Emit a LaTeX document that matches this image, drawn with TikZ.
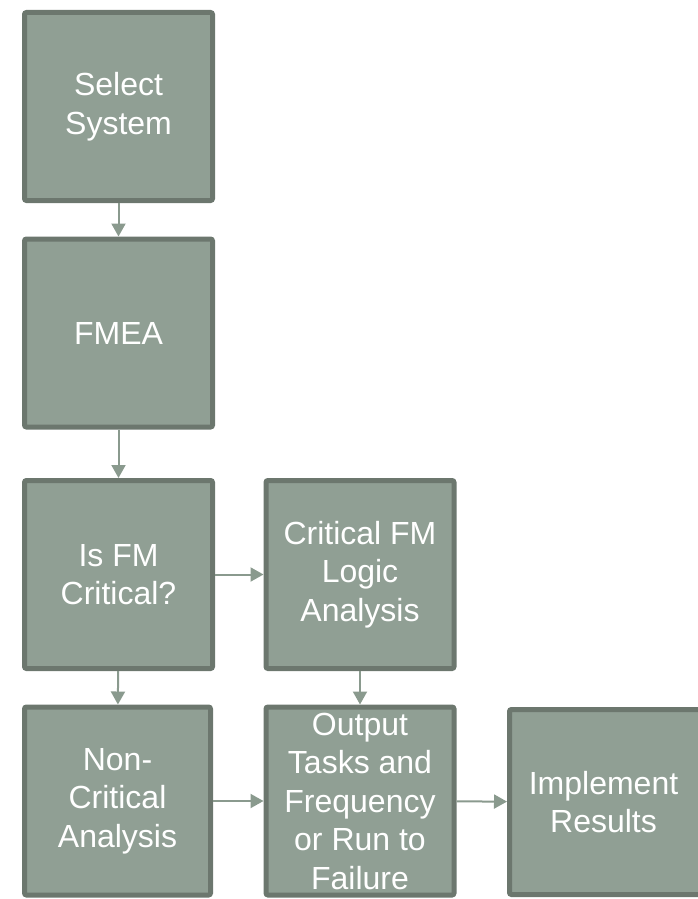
\documentclass[tikz,border=0pt]{standalone}
\usepackage{fontspec}
\setmainfont{Liberation Sans}
\usetikzlibrary{arrows.meta}
\definecolor{boxfill}{HTML}{909F94}
\definecolor{boxline}{HTML}{6C776E}
\definecolor{arrowcol}{HTML}{8A9A8E}
\begin{document}
\begin{tikzpicture}[x=1pt,y=-1pt,
    stepbox/.style={draw=boxline,line width=5pt,fill=boxfill,rounded corners=2pt,
        minimum width=188pt,minimum height=188pt,inner sep=0pt,align=center,
        text=white,font=\fontsize{32}{38.5}\selectfont},
    flow/.style={-{Triangle[length=13pt,width=14pt]},draw=arrowcol,fill=arrowcol,line width=2pt}]
    \useasboundingbox (0,0) rectangle (698,899);
    \clip (0,0) rectangle (698,899);

    \node[stepbox] (select) at (118.5,106.5) {Select\\System};
    \node[stepbox] (fmea) at (118.5,333) {FMEA};
    \node[stepbox] (iscrit) at (118.5,574.5) {Is FM\\Critical?};
    \node[stepbox] (critlogic) at (360,574.5) {Critical FM\\Logic\\Analysis};
    \node[stepbox,minimum width=186pt] (noncrit) at (117.5,801) {Non-\\Critical\\Analysis};
    \node[stepbox] (output) at (360,801)
        {Output\\Tasks and\\Frequency\\or Run to\\Failure};
    \node[stepbox,minimum width=200pt,minimum height=185pt] (implement) at (609.5,802)
        {\hspace*{-12pt}Implement\\\hspace*{-12pt}Results};

    \draw[flow] (select) -- (fmea);
    \draw[flow] (fmea) -- (iscrit);
    \draw[flow] (iscrit) -- (critlogic);
    \draw[flow] (iscrit) -- (noncrit);
    \draw[flow] (critlogic) -- (output);
    \draw[flow] (noncrit) -- (output);
    \draw[flow] (output) -- (implement);
\end{tikzpicture}
\end{document}
